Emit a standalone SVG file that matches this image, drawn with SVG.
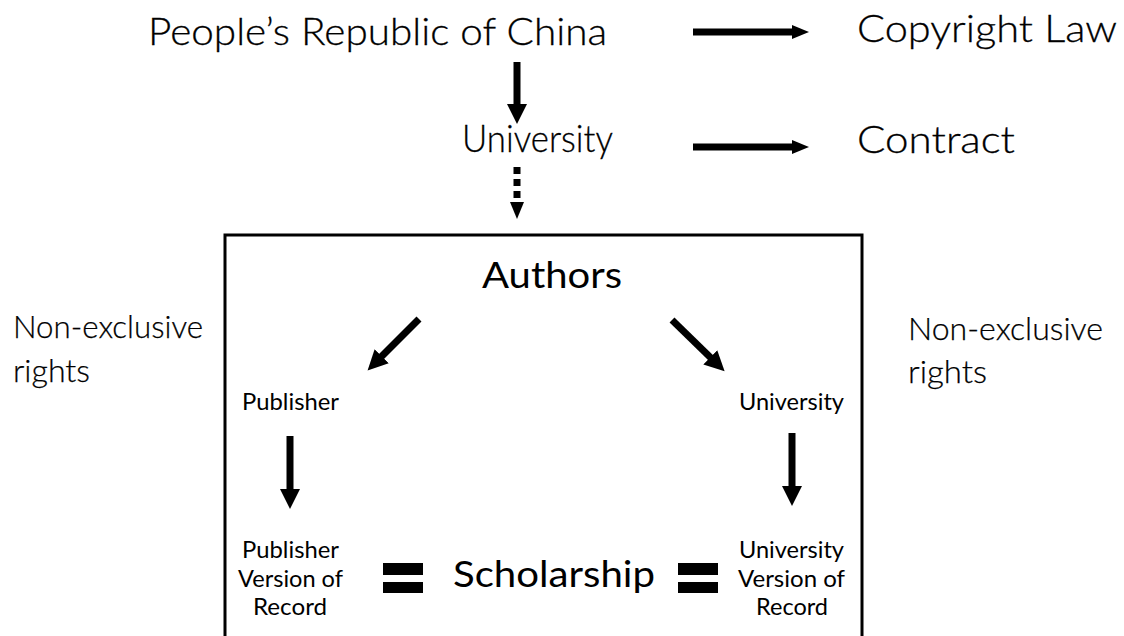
<svg xmlns="http://www.w3.org/2000/svg" width="1124" height="636" viewBox="0 0 1124 636">
<style>
.big{font-family:Lato,"Open Sans","Liberation Sans",sans-serif;font-size:38px;font-weight:300;fill:#000;stroke:#000;stroke-width:0.3}
.mid{font-family:Lato,"Open Sans","Liberation Sans",sans-serif;font-size:37px;font-weight:400;fill:#000}
.side{font-family:Lato,"Open Sans","Liberation Sans",sans-serif;font-size:32px;font-weight:300;fill:#000;stroke:#000;stroke-width:0.25}
.small{font-family:Lato,"Open Sans","Liberation Sans",sans-serif;font-size:23px;font-weight:400;fill:#000}
.arrow{stroke:#000;stroke-width:7;fill:none}
.eq{fill:#000}
</style>
<defs>
<marker id="headBig" markerUnits="userSpaceOnUse" markerWidth="22" markerHeight="22" refX="1" refY="10" orient="auto">
<path d="M0,0 L20,10 L0,20 z" fill="#000"/>
</marker>
<marker id="headSmall" markerUnits="userSpaceOnUse" markerWidth="20" markerHeight="16" refX="1" refY="7" orient="auto">
<path d="M0,0 L17,7 L0,14 z" fill="#000"/>
</marker>
</defs>
<rect id="box" x="225" y="235" width="637" height="420" fill="none" stroke="#000" stroke-width="3"/>
<g id="prc"><text class="big" x="148" y="45" textLength="459" lengthAdjust="spacingAndGlyphs">People’s Republic of China</text></g>
<g id="university-top"><text class="big" x="462" y="152" textLength="151" lengthAdjust="spacingAndGlyphs">University</text></g>
<g id="copyright"><text class="big" x="857" y="42" textLength="260" lengthAdjust="spacingAndGlyphs">Copyright Law</text></g>
<g id="contract"><text class="big" x="857" y="153" textLength="158" lengthAdjust="spacingAndGlyphs">Contract</text></g>
<g id="authors"><text class="mid" x="482" y="288" textLength="140" lengthAdjust="spacingAndGlyphs">Authors</text></g>
<g id="scholarship"><text class="mid" x="453" y="587" textLength="202" lengthAdjust="spacingAndGlyphs">Scholarship</text></g>
<g id="rights-left">
<text class="side" x="13" y="338" textLength="190" lengthAdjust="spacingAndGlyphs">Non-exclusive</text>
<text class="side" x="13" y="382" textLength="77" lengthAdjust="spacingAndGlyphs">rights</text>
</g>
<g id="rights-right">
<text class="side" x="908" y="340" textLength="195" lengthAdjust="spacingAndGlyphs">Non-exclusive</text>
<text class="side" x="908" y="383" textLength="79" lengthAdjust="spacingAndGlyphs">rights</text>
</g>
<g id="publisher"><text class="small" x="242" y="410" textLength="97" lengthAdjust="spacingAndGlyphs">Publisher</text></g>
<g id="university-small"><text class="small" x="739" y="410" textLength="105" lengthAdjust="spacingAndGlyphs">University</text></g>
<g id="publisher-vor">
<text class="small" x="242" y="558" textLength="97" lengthAdjust="spacingAndGlyphs">Publisher</text>
<text class="small" x="238" y="587" textLength="105" lengthAdjust="spacingAndGlyphs">Version of</text>
<text class="small" x="253" y="615" textLength="74" lengthAdjust="spacingAndGlyphs">Record</text>
</g>
<g id="university-vor">
<text class="small" x="739" y="558" textLength="105" lengthAdjust="spacingAndGlyphs">University</text>
<text class="small" x="738" y="587" textLength="107" lengthAdjust="spacingAndGlyphs">Version of</text>
<text class="small" x="756" y="615" textLength="72" lengthAdjust="spacingAndGlyphs">Record</text>
</g>
<g id="equals-left"><rect class="eq" x="383" y="563" width="40" height="12"/><rect class="eq" x="383" y="582" width="40" height="11"/></g>
<g id="equals-right"><rect class="eq" x="678" y="563" width="40" height="12"/><rect class="eq" x="678" y="582" width="40" height="11"/></g>
<g id="connectors">
<line class="arrow" x1="517" y1="62" x2="517" y2="105" marker-end="url(#headBig)"/>
<line class="arrow" x1="517" y1="167" x2="517" y2="203" stroke-dasharray="7,5" marker-end="url(#headSmall)"/>
<line class="arrow" x1="693" y1="32" x2="793" y2="32" marker-end="url(#headSmall)"/>
<line class="arrow" x1="693" y1="147" x2="793" y2="147" marker-end="url(#headSmall)"/>
<line class="arrow" x1="419" y1="319" x2="381" y2="357" marker-end="url(#headBig)"/>
<line class="arrow" x1="672" y1="320" x2="711" y2="358" marker-end="url(#headBig)"/>
<line class="arrow" x1="290" y1="436" x2="290" y2="490" marker-end="url(#headBig)"/>
<line class="arrow" x1="792" y1="433" x2="792" y2="487" marker-end="url(#headBig)"/>
</g>
</svg>
